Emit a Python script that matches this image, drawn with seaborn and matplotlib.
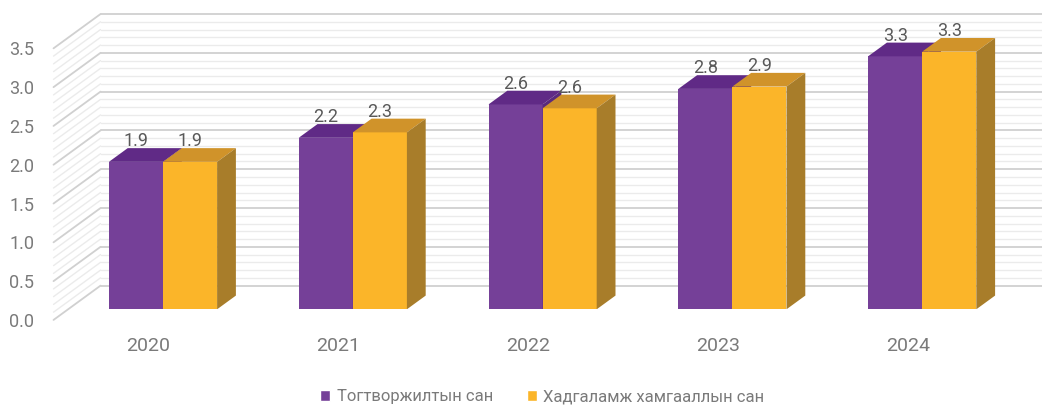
import numpy as np
import pandas as pd
import matplotlib.pyplot as plt
import seaborn as sns

# chart data
years = ['2020', '2021', '2022', '2023', '2024']
series_names = ['Тогтворжилтын сан', 'Хадгаламж хамгааллын сан']
tog_values = [1.90, 2.21, 2.64, 2.84, 3.26]
had_values = [1.90, 2.28, 2.59, 2.87, 3.32]
y_ticks = [0.0, 0.5, 1.0, 1.5, 2.0, 2.5, 3.0, 3.5]

front_colors = ['#754098', '#fbb529']
top_colors = ['#602a86', '#d0932a']
side_colors = ['#5a2a7c', '#a87d2a']
text_gray = '#7a7a7a'
label_gray = '#595959'

df = pd.DataFrame({
    'year': years * 2,
    'value': tog_values + had_values,
    'fund': [series_names[0]] * len(years) + [series_names[1]] * len(years),
})

sns.set_theme(style='white')
plt.rcParams['font.family'] = ['Roboto', 'DejaVu Sans']

fig = plt.figure(figsize=(10.42, 4.08), dpi=100)
ax = fig.add_axes([68.1 / 1042, 98.7 / 408, 949 / 1042, 271.6 / 408])

sns.barplot(data=df, x='year', y='value', hue='fund', palette=front_colors,
            width=0.57, saturation=1, ax=ax, zorder=3)
ax.set_xlim(-0.5, 4.5)
ax.set_ylim(0, 3.5)
ax.axis('off')

# pixel offsets -> data units
px_x = ax.transData.transform((1, 0))[0] - ax.transData.transform((0, 0))[0]
px_y = ax.transData.transform((0, 1))[1] - ax.transData.transform((0, 0))[1]
depth_x, depth_y = 47 / px_x, 34.3 / px_y      # full wall depth
front_f, bar_f = 0.31, 0.40                    # bar plane position and depth
fx, fy = -front_f * depth_x, -front_f * depth_y
bx, by = (1 - front_f) * depth_x, (1 - front_f) * depth_y
dx, dy = bar_f * depth_x, bar_f * depth_y

# walls grid
for v in np.round(np.arange(0, 3.51, 0.1), 2):
    major = abs(v * 2 - round(v * 2)) < 1e-6
    col = '#d0d0d0' if major else '#ebebeb'
    lw = 1.3 if major else 1.0
    ax.plot([-0.5 + bx, 4.6 + bx], [v + by, v + by], color=col, lw=lw,
            clip_on=False, zorder=1 if major else 0.5)
    ax.plot([-0.5 + fx, -0.5 + bx], [v + fy, v + by], color=col, lw=lw,
            clip_on=False, zorder=1 if major else 0.5)

# 3d faces on top of the seaborn bars
bars = []
for k, cont in enumerate(ax.containers):
    for bar in cont:
        bars.append((bar.get_x(), k, bar))
bars.sort(key=lambda b: b[0])

for i, (_, k, bar) in enumerate(bars):
    x0 = bar.get_x()
    x1 = x0 + bar.get_width()
    h = bar.get_height()
    z = 3 + i * 0.1
    bar.set_zorder(z)
    bar.set_edgecolor('none')
    top = plt.Polygon([(x0, h), (x1, h), (x1 + dx, h + dy), (x0 + dx, h + dy)],
                      closed=True, color=top_colors[k], lw=0, zorder=z + 0.01)
    side = plt.Polygon([(x1, 0), (x1 + dx, dy), (x1 + dx, h + dy), (x1, h)],
                       closed=True, color=side_colors[k], lw=0, zorder=z + 0.01)
    ax.add_patch(top)
    ax.add_patch(side)
    ax.text((x0 + x1) / 2, h + dy + 2 / px_y, f'{h:.1f}', ha='center',
            va='baseline', fontsize=13, color=label_gray, zorder=10)

# y tick labels on the front wall
for t in y_ticks:
    ax.text(-0.5 + fx - 19.5 / px_x, t + fy - 2 / px_y, f'{t:.1f}', ha='right',
            va='center', fontsize=13, color=text_gray, clip_on=False)

# category labels
for i, yr in enumerate(years):
    ax.text(i + fx, fy - 26 / px_y, yr, ha='center', va='center',
            fontsize=14, color=text_gray, clip_on=False)

sns.move_legend(ax, 'center', bbox_to_anchor=(0.5206, 0.027),
                bbox_transform=fig.transFigure, ncol=2, frameon=False,
                title=None, fontsize=12, handlelength=0.6, handleheight=0.6,
                handletextpad=0.4, columnspacing=2.0, labelcolor=text_gray)

plt.savefig('out.png', dpi=100)
